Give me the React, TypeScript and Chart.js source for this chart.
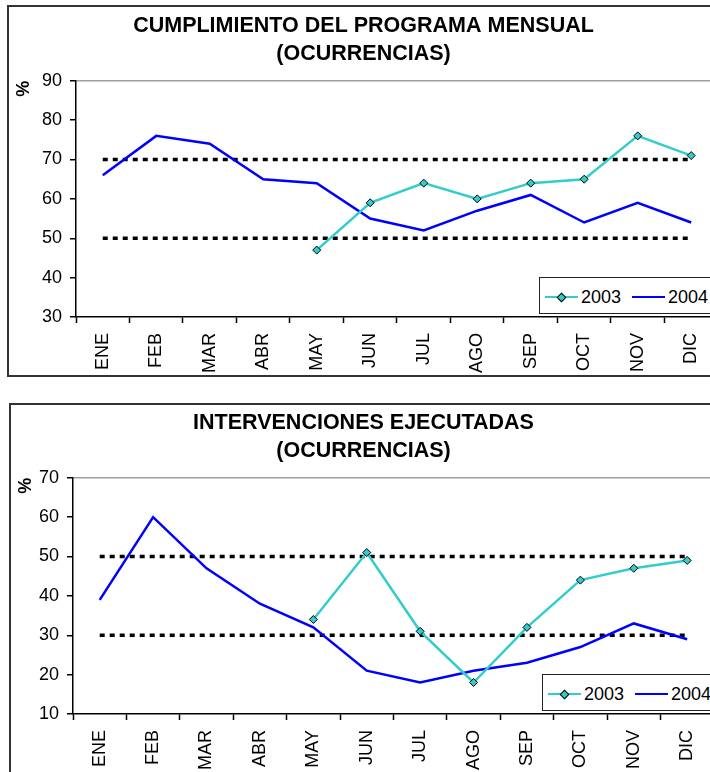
import React, { useEffect, useRef } from 'react';
import { Chart, registerables } from 'chart.js';

Chart.register(...registerables);

const FONT = '"Liberation Sans", Arial, sans-serif';
const CYAN = '#33CCCC';
const BLUE = '#0000FF';

const meses = ['ENE', 'FEB', 'MAR', 'ABR', 'MAY', 'JUN', 'JUL', 'AGO', 'SEP', 'OCT', 'NOV', 'DIC'];

// Gráfico 1: Cumplimiento del programa mensual
const cumplimiento2003 = [null, null, null, null, 47, 59, 64, 60, 64, 65, 76, 71];
const cumplimiento2004 = [66, 76, 74, 65, 64, 55, 52, 57, 61, 54, 59, 54];
const cumplimientoLimSup = [70, 70, 70, 70, 70, 70, 70, 70, 70, 70, 70, 70];
const cumplimientoLimInf = [50, 50, 50, 50, 50, 50, 50, 50, 50, 50, 50, 50];
const cumplimientoEje = [30, 40, 50, 60, 70, 80, 90];

// Gráfico 2: Intervenciones ejecutadas
const intervenciones2003 = [null, null, null, null, 34, 51, 31, 18, 32, 44, 47, 49];
const intervenciones2004 = [39, 60, 47, 38, 32, 21, 18, 21, 23, 27, 33, 29];
const intervencionesLimSup = [50, 50, 50, 50, 50, 50, 50, 50, 50, 50, 50, 50];
const intervencionesLimInf = [30, 30, 30, 30, 30, 30, 30, 30, 30, 30, 30, 30];
const intervencionesEje = [10, 20, 30, 40, 50, 60, 70];

type Props = {
  title: string[];
  s2003: (number | null)[];
  s2004: number[];
  limSup: number[];
  limInf: number[];
  eje: number[];
  width: number;
  height: number;
  yAxisWidth: number;
  xAxisHeight: number;
  padRight: number;
  titlePadTop: number;
  titlePadBottom: number;
};

function LineChart(p: Props) {
  const ref = useRef<HTMLCanvasElement | null>(null);
  useEffect(() => {
    if (!ref.current) return;
    const yMin = p.eje[0];
    const yMax = p.eje[p.eje.length - 1];
    const chart = new Chart(ref.current, {
      type: 'line',
      data: {
        labels: meses,
        datasets: [
          {
            label: '2003',
            data: p.s2003,
            borderColor: CYAN,
            backgroundColor: CYAN,
            borderWidth: 2.5,
            pointStyle: 'rectRot',
            pointRadius: 4,
            pointBackgroundColor: CYAN,
            pointBorderColor: '#000',
            pointBorderWidth: 1,
            tension: 0,
            spanGaps: false,
          },
          {
            label: '2004',
            data: p.s2004,
            borderColor: BLUE,
            backgroundColor: BLUE,
            borderWidth: 2.5,
            pointRadius: 0,
            tension: 0,
          },
          {
            label: 'sup',
            data: p.limSup,
            borderColor: '#000',
            borderWidth: 3.5,
            borderDash: [5, 5],
            pointRadius: 0,
          },
          {
            label: 'inf',
            data: p.limInf,
            borderColor: '#000',
            borderWidth: 3.5,
            borderDash: [5, 5],
            pointRadius: 0,
          },
        ],
      },
      options: {
        responsive: false,
        animation: false,
        events: [],
        layout: { padding: { left: 0, right: p.padRight, top: 0, bottom: 0 } },
        plugins: {
          legend: { display: false },
          tooltip: { enabled: false },
          title: {
            display: true,
            text: p.title,
            color: '#000',
            font: { family: FONT, size: 21.5, weight: 'bold', lineHeight: 1.32 },
            padding: { top: p.titlePadTop, bottom: p.titlePadBottom },
          },
        },
        scales: {
          x: {
            type: 'category',
            offset: true,
            grid: {
              offset: true,
              drawOnChartArea: false,
              drawTicks: true,
              tickLength: 6,
              tickColor: '#000',
              tickWidth: 1.5,
            },
            border: { display: true, color: '#000', width: 1.5 },
            ticks: {
              autoSkip: false,
              minRotation: 90,
              maxRotation: 90,
              padding: 10,
              color: '#000',
              font: { family: FONT, size: 18 },
            },
            afterFit: (s: any) => {
              s.height = p.xAxisHeight;
            },
          },
          y: {
            min: yMin,
            max: yMax,
            ticks: {
              stepSize: 10,
              padding: 8,
              color: '#000',
              font: { family: FONT, size: 18 },
            },
            grid: {
              color: (c: any) => (c.tick && c.tick.value === yMax ? '#a0a0a0' : 'rgba(0,0,0,0)'),
              lineWidth: 1.5,
              tickColor: '#000',
              tickLength: 6,
              tickWidth: 1.5,
            },
            border: { display: true, color: '#000', width: 1.5 },
            title: {
              display: true,
              text: '%',
              align: 'end',
              color: '#000',
              font: { family: FONT, size: 18, weight: 'bold' },
              padding: { top: 4, bottom: 0 },
            },
            afterFit: (s: any) => {
              s.width = p.yAxisWidth;
            },
          },
        },
      } as any,
    });
    return () => chart.destroy();
  }, []);
  return <canvas ref={ref} width={p.width} height={p.height} style={{ display: 'block' }} />;
}

function Legend({ left, top }: { left: number; top: number }) {
  const text: React.CSSProperties = {
    position: 'absolute',
    top: 19,
    transform: 'translateY(-50%)',
    fontFamily: FONT,
    fontSize: 18,
    color: '#000',
    lineHeight: '20px',
    whiteSpace: 'nowrap',
  };
  return (
    <div
      style={{
        position: 'absolute',
        left,
        top,
        width: 185,
        height: 35,
        border: '1px solid #222',
        background: '#fff',
      }}
    >
      <div style={{ position: 'absolute', left: 5, top: 17.75, width: 33, height: 2.5, background: CYAN }} />
      <div
        style={{
          position: 'absolute',
          left: 18,
          top: 15.5,
          width: 5,
          height: 5,
          background: CYAN,
          border: '1px solid #000',
          transform: 'rotate(45deg)',
        }}
      />
      <span style={{ ...text, left: 41 }}>2003</span>
      <div style={{ position: 'absolute', left: 92, top: 17.75, width: 33, height: 2.5, background: BLUE }} />
      <span style={{ ...text, left: 128 }}>2004</span>
    </div>
  );
}

export default function App() {
  return (
    <div
      style={{
        position: 'fixed',
        left: 0,
        top: 0,
        width: 710,
        height: 772,
        overflow: 'hidden',
        background: '#fff',
      }}
    >
      <div style={{ position: 'absolute', left: 7, top: 5, border: '2px solid #333' }}>
        <LineChart
          title={['CUMPLIMIENTO DEL PROGRAMA MENSUAL', '(OCURRENCIAS)']}
          s2003={cumplimiento2003}
          s2004={cumplimiento2004}
          limSup={cumplimientoLimSup}
          limInf={cumplimientoLimInf}
          eje={cumplimientoEje}
          width={714}
          height={368}
          yAxisWidth={67}
          xAxisHeight={58}
          padRight={5}
          titlePadTop={5}
          titlePadBottom={12}
        />
      </div>
      <Legend left={539} top={277} />
      <div style={{ position: 'absolute', left: 9, top: 403, border: '2px solid #333' }}>
        <LineChart
          title={['INTERVENCIONES EJECUTADAS', '(OCURRENCIAS)']}
          s2003={intervenciones2003}
          s2004={intervenciones2004}
          limSup={intervencionesLimSup}
          limInf={intervencionesLimInf}
          eje={intervencionesEje}
          width={708}
          height={368}
          yAxisWidth={62}
          xAxisHeight={59}
          padRight={3}
          titlePadTop={4}
          titlePadBottom={12}
        />
      </div>
      <Legend left={542} top={674} />
    </div>
  );
}
